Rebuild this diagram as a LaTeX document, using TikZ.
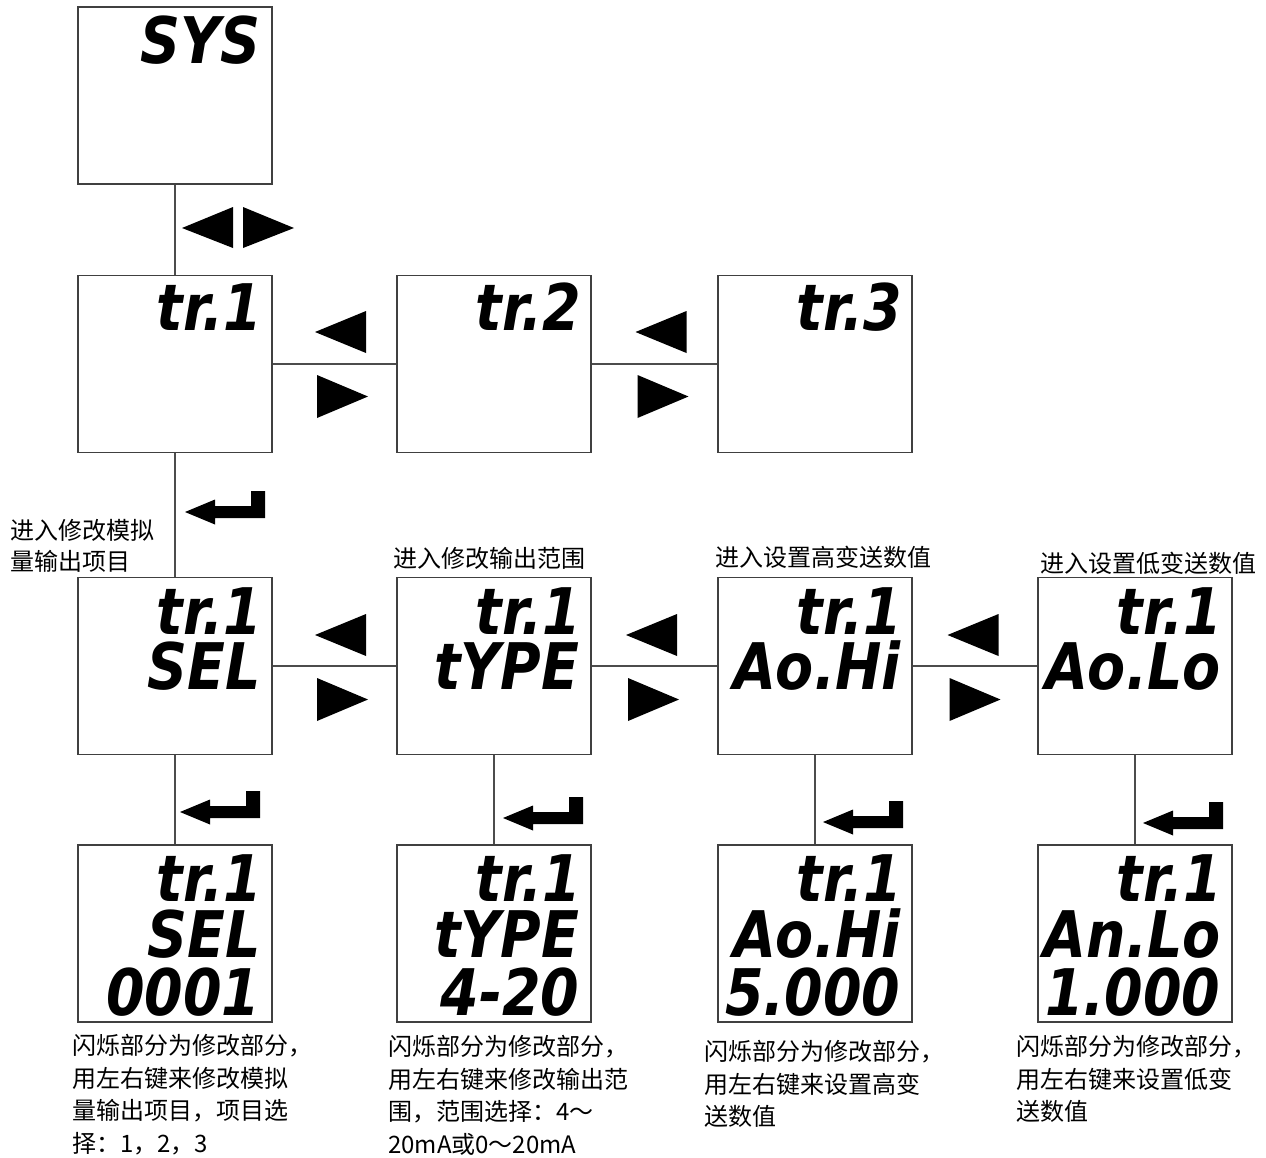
\documentclass[tikz,border=0pt]{standalone}
\usepackage{fontspec}
\usepackage{graphicx}
\usetikzlibrary{calc}
\newfontfamily\cjk{Noto Sans CJK SC}
\newfontfamily\lcdfont{DejaVu Sans}
\newcommand\lcdtxt[1]{\scalebox{0.88}[1.02]{#1}}
\tikzset{
 scrbox/.style={draw=black!75, line width=1.4pt, minimum width=194pt, minimum height=177pt, inner sep=0pt, fill=white},
 lcd/.style={anchor=base east, inner sep=0pt, font=\lcdfont\bfseries\itshape\fontsize{63}{63}\selectfont},
 conn/.style={draw=black!70, line width=1.1pt},
 lbl/.style={font=\cjk\fontsize{24}{31}\selectfont, anchor=north west, inner sep=0pt, align=left},
 note/.style={font=\cjk\fontsize{24}{32.6}\selectfont, anchor=north west, inner sep=0pt, align=left},
 lrpair/.pic={\fill (-26,-32) -- (25,-53) -- (25,-11) -- cycle;
               \fill (-24,11) -- (-24,54) -- (27,32.5) -- cycle;},
 enterkey/.pic={\fill (0,0) -- (30,-12.5) -- (30,-6) -- (66,-6) -- (66,-21) -- (80,-21) -- (80,6) -- (30,6) -- (30,12.5) -- cycle;},
}
\begin{document}
\begin{tikzpicture}[x=1pt,y=-1pt]
\useasboundingbox (0,0) rectangle (1266,1157);
\fill[white] (0,0) rectangle (1266,1157);

% boxes
\node[scrbox] (sys) at (175,95.5) {};
\node[scrbox] (r2a) at (175,364) {};
\node[scrbox] (r2b) at (494,364) {};
\node[scrbox] (r2c) at (815,364) {};
\node[scrbox] (r3a) at (175,666) {};
\node[scrbox] (r3b) at (494,666) {};
\node[scrbox] (r3c) at (815,666) {};
\node[scrbox] (r3d) at (1135,666) {};
\node[scrbox] (r4a) at (175,933.5) {};
\node[scrbox] (r4b) at (494,933.5) {};
\node[scrbox] (r4c) at (815,933.5) {};
\node[scrbox] (r4d) at (1135,933.5) {};

% connectors
\draw[conn] (sys.south) -- (r2a.north);
\draw[conn] (r2a.east) -- (r2b.west);
\draw[conn] (r2b.east) -- (r2c.west);
\draw[conn] (r2a.south) -- (r3a.north);
\draw[conn] (r3a.east) -- (r3b.west);
\draw[conn] (r3b.east) -- (r3c.west);
\draw[conn] (r3c.east) -- (r3d.west);
\draw[conn] (r3a.south) -- (r4a.north);
\draw[conn] (r3b.south) -- (r4b.north);
\draw[conn] (r3c.south) -- (r4c.north);
\draw[conn] (r3d.south) -- (r4d.north);

% LCD texts
\node[lcd] (tsys) at ($(sys.north east)+(-12,57)$) {\lcdtxt{SYS}};
\node[lcd] (t2a) at ($(r2a.north east)+(-10,56)$) {\lcdtxt{tr.1}};
\node[lcd] (t2b) at ($(r2b.north east)+(-10,56)$) {\lcdtxt{tr.2}};
\node[lcd] (t2c) at ($(r2c.north east)+(-10,56)$) {\lcdtxt{tr.3}};

\node[lcd] (t3a1) at ($(r3a.north east)+(-10,58)$) {\lcdtxt{tr.1}};
\node[lcd] (t3a2) at ($(r3a.north east)+(-12,113)$) {\lcdtxt{SEL}};
\node[lcd] (t3b1) at ($(r3b.north east)+(-10,58)$) {\lcdtxt{tr.1}};
\node[lcd] (t3b2) at ($(r3b.north east)+(-12,113)$) {\lcdtxt{tYPE}};
\node[lcd] (t3c1) at ($(r3c.north east)+(-10,58)$) {\lcdtxt{tr.1}};
\node[lcd] (t3c2) at ($(r3c.north east)+(-12,113)$) {\lcdtxt{Ao.Hi}};
\node[lcd] (t3d1) at ($(r3d.north east)+(-10,58)$) {\lcdtxt{tr.1}};
\node[lcd] (t3d2) at ($(r3d.north east)+(-12,113)$) {\lcdtxt{Ao.Lo}};

\node[lcd] (t4a1) at ($(r4a.north east)+(-10,57)$) {\lcdtxt{tr.1}};
\node[lcd] (t4a2) at ($(r4a.north east)+(-12,113)$) {\lcdtxt{SEL}};
\node[lcd] (t4a3) at ($(r4a.north east)+(-12,171)$) {\lcdtxt{0001}};
\node[lcd] (t4b1) at ($(r4b.north east)+(-10,57)$) {\lcdtxt{tr.1}};
\node[lcd] (t4b2) at ($(r4b.north east)+(-12,113)$) {\lcdtxt{tYPE}};
\node[lcd] (t4b3) at ($(r4b.north east)+(-12,171)$) {\lcdtxt{4-20}};
\node[lcd] (t4c1) at ($(r4c.north east)+(-10,57)$) {\lcdtxt{tr.1}};
\node[lcd] (t4c2) at ($(r4c.north east)+(-12,113)$) {\lcdtxt{Ao.Hi}};
\node[lcd] (t4c3) at ($(r4c.north east)+(-12,171)$) {\lcdtxt{5.000}};
\node[lcd] (t4d1) at ($(r4d.north east)+(-10,57)$) {\lcdtxt{tr.1}};
\node[lcd] (t4d2) at ($(r4d.north east)+(-12,113)$) {\lcdtxt{An.Lo}};
\node[lcd] (t4d3) at ($(r4d.north east)+(-12,171)$) {\lcdtxt{1.000}};

% key symbols
\fill (182,228) -- (233,207) -- (233,248) -- cycle;
\fill (243,207) -- (243,248) -- (294,228) -- cycle;
\pic at (341,364) {lrpair};
\pic at (661.5,364) {lrpair};
\pic at (341,667) {lrpair};
\pic at (652,667) {lrpair};
\pic at (973.5,667) {lrpair};
\pic at (185,512) {enterkey};
\pic at (180,812) {enterkey};
\pic at (503,818) {enterkey};
\pic at (823,822) {enterkey};
\pic at (1143,823) {enterkey};

% labels
\node[lbl] (l1) at (10,519) {进入修改模拟\\量输出项目};
\node[lbl] (l2) at (393,547) {进入修改输出范围};
\node[lbl] (l3) at (715,546) {进入设置高变送数值};
\node[lbl] (l4) at (1040,552) {进入设置低变送数值};

% notes
\node[note] (n1) at (72,1034) {闪烁部分为修改部分，\\用左右键来修改模拟\\量输出项目，项目选\\择：1，2，3};
\node[note] (n2) at (388,1035) {闪烁部分为修改部分，\\用左右键来修改输出范\\围，范围选择：4～\\20mA或0～20mA};
\node[note] (n3) at (704,1040) {闪烁部分为修改部分，\\用左右键来设置高变\\送数值};
\node[note] (n4) at (1016,1035) {闪烁部分为修改部分，\\用左右键来设置低变\\送数值};
\end{tikzpicture}
\end{document}
